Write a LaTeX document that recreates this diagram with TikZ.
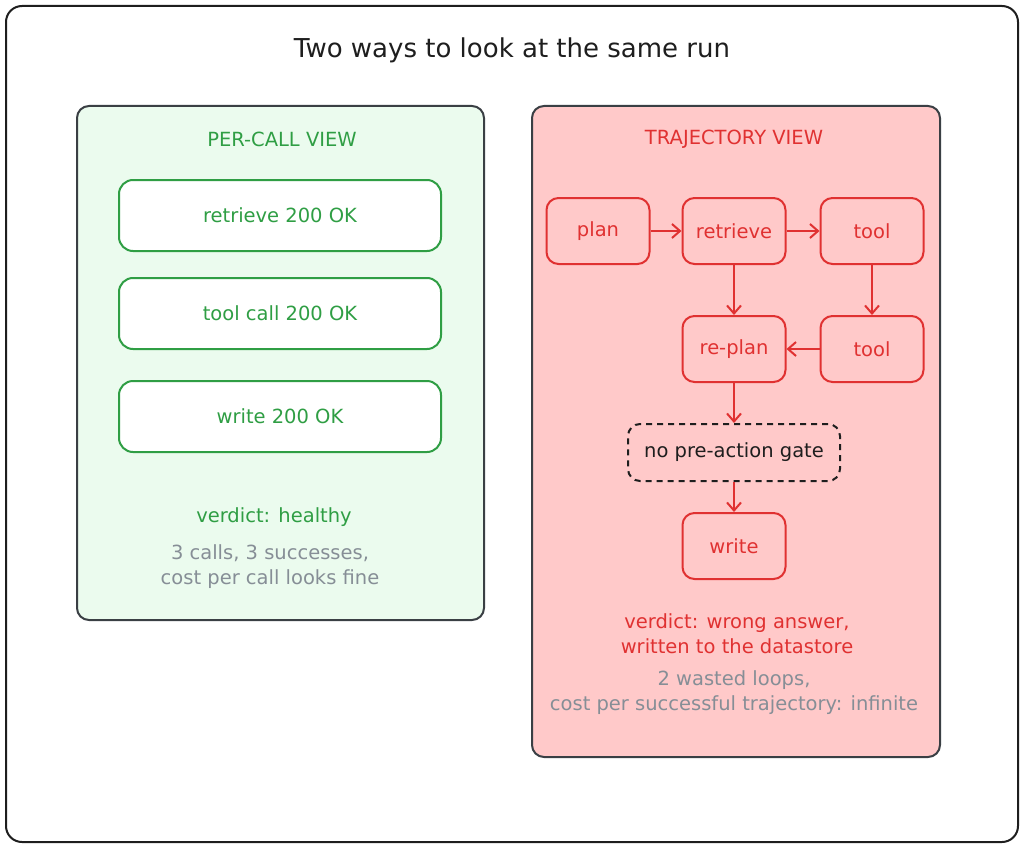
\documentclass[tikz,border=0pt]{standalone}
\usepackage{fontspec}
\setmainfont{DejaVu Sans}
\usetikzlibrary{positioning,arrows.meta}
\definecolor{inkblack}{HTML}{1E1E1E}
\definecolor{panelgray}{HTML}{3A3F44}
\definecolor{callgreen}{HTML}{2F9E44}
\definecolor{callfill}{HTML}{EBFBEE}
\definecolor{trajred}{HTML}{E03131}
\definecolor{trajfill}{HTML}{FFC9C9}
\definecolor{notegray}{HTML}{868E96}

\begin{document}
\begin{tikzpicture}[x=1pt, y=-1pt, every node/.style={font=\fontsize{19.5}{25}\selectfont},
  frame/.style={draw=inkblack, line width=2pt, rounded corners=16pt},
  panel/.style={draw=panelgray, line width=2pt, rounded corners=12pt},
  okbox/.style={draw=callgreen, fill=white, line width=2pt, rounded corners=14pt, minimum width=322pt, minimum height=71pt, text=callgreen},
  stepbox/.style={draw=trajred, line width=2pt, rounded corners=12pt, minimum width=103pt, minimum height=66pt, text=trajred},
  gatebox/.style={draw=inkblack, line width=2pt, dash pattern=on 6pt off 5pt, rounded corners=12pt, minimum width=212pt, minimum height=57pt, text=inkblack},
  arr/.style={-{Straight Barb[length=8pt, width=14pt]}, draw=trajred, line width=2pt}]
\useasboundingbox (0,0) rectangle (1024,848);
\node[frame, minimum width=1012pt, minimum height=836pt] (frame) at (512,424) {};
\node[font=\fontsize{26}{30}\selectfont, text=inkblack] (title) at (512,50) {Two ways to look at the same run};

% per-call view
\node[panel, fill=callfill, minimum width=407pt, minimum height=514pt] (callpanel) at (280.5,363) {};
\node[text=callgreen] (callhead) at (282,139) {PER-CALL VIEW};
\node[okbox] (okretrieve) at (280,215.5) {retrieve 200 OK};
\node[okbox, below=25pt of okretrieve] (oktool) {tool call 200 OK};
\node[okbox, below=30pt of oktool] (okwrite) {write 200 OK};
\node[text=callgreen] (callverdict) at (274,517) {verdict: healthy};
\node[text=notegray, align=center] (callnote) at (270,567) {3 calls, 3 successes,\\cost per call looks fine};

% trajectory view
\node[panel, fill=trajfill, minimum width=408pt, minimum height=651pt] (trajpanel) at (736,431.5) {};
\node[text=trajred] (trajhead) at (734,139) {TRAJECTORY VIEW};
\node[stepbox] (plan) at (598,231) {plan};
\node[stepbox, right=31pt of plan] (retrieve) {retrieve};
\node[stepbox, right=33pt of retrieve] (tool) {tool};
\node[stepbox, below=50pt of retrieve] (replan) {re-plan};
\node[stepbox, below=50pt of tool] (toolagain) {tool};
\node[gatebox] (gate) at (734,452.5) {no pre-action gate};
\node[stepbox, below=30pt of gate] (write) {write};
\node[text=trajred, align=center] (trajverdict) at (737,633.5) {verdict: wrong answer,\\written to the datastore};
\node[text=notegray, align=center] (trajnote) at (734,692.5) {2 wasted loops,\\cost per successful trajectory: infinite};

\foreach \a/\b in {plan/retrieve, retrieve/tool, retrieve/replan, tool/toolagain, toolagain/replan, replan/gate, gate/write} \draw[arr] (\a) -- (\b);
\end{tikzpicture}
\end{document}
